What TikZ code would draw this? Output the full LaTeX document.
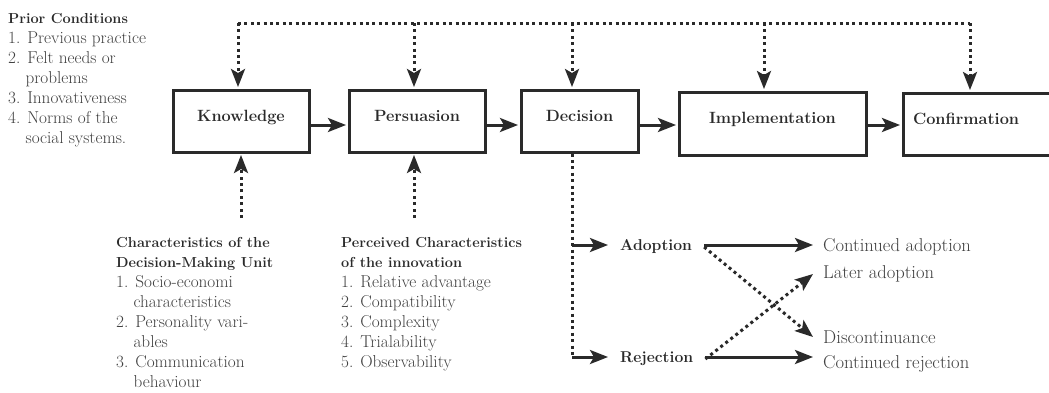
\documentclass[tikz,border=0pt]{standalone}
\usepackage{fontspec}
\usetikzlibrary{arrows.meta}
\definecolor{ink}{HTML}{2A2A2A}
\definecolor{txt}{HTML}{404040}
\newcommand{\ind}{\hphantom{1.~}}
\newcommand{\hd}[1]{\textcolor{ink}{\fontsize{14.5}{20}\selectfont\bfseries #1}}

\begin{document}
\begin{tikzpicture}[x=1pt, y=-1pt]

\tikzstyle{box1}=[rectangle, draw=ink, line width=3pt, text height=11pt, text depth=11pt, text=ink, font=\fontsize{16.3}{20}\selectfont\bfseries]
\tikzstyle{arrow}=[-{Stealth[length=18pt,width=14pt,inset=4pt]}, draw=ink, line width=3pt]
\tikzstyle{dotline}=[draw=ink, line width=3pt, dash pattern=on 3pt off 3.4pt]
\tikzstyle{dotarrow}=[arrow, dash pattern=on 3pt off 3.4pt]
\tikzstyle{list}=[anchor=north west, inner sep=0pt, align=left, text=txt, font=\fontsize{17.2}{20}\selectfont]
\tikzstyle{choice}=[anchor=west, inner xsep=12pt, text=ink, font=\fontsize{15.7}{20}\selectfont\bfseries]
\tikzstyle{outcome}=[anchor=west, inner xsep=10pt, text=txt, font=\fontsize{18.6}{20}\selectfont]

\useasboundingbox (0,0) rectangle (1049,392);

\node (K) [box1, minimum width=136, minimum height=62] at (241,121) {Knowledge};
\node (P) [box1, minimum width=136, minimum height=62] at (417,121) {Persuasion};
\node (D) [box1, minimum width=117, minimum height=62] at (579.5,121) {Decision};
\node (I) [box1, minimum width=187, minimum height=63] at (772.5,123.5) {Implementation};
\node (C) [box1, minimum height=62, inner xsep=10pt, text width=137, align=left] at (981.5,124) {Confirmation};

\draw [arrow, shorten >=1.5pt] ([yshift=-4pt]K.east) -- ([yshift=-4pt]K.east -| P.west);
\draw [arrow, shorten >=1.5pt] ([yshift=-4pt]P.east) -- ([yshift=-4pt]P.east -| D.west);
\draw [arrow, shorten >=1.5pt] ([yshift=-4pt]D.east) -- ([yshift=-4pt]D.east -| I.west);
\draw [arrow, shorten >=1.5pt] ([yshift=-1.5pt]I.east) -- ([yshift=-1.5pt]I.east -| C.west);

\coordinate (tK) at (238,23);
\coordinate (tP) at (414,23);
\coordinate (tD) at (572,23);
\coordinate (tI) at (764,23);
\coordinate (tC) at (970,23);
\draw [dotline] (tK) -- (tC);
\draw [dotarrow, shorten >=1.5pt] (tK) -- (tK |- K.north);
\draw [dotarrow, shorten >=1.5pt] (tP) -- (tP |- P.north);
\draw [dotarrow, shorten >=1.5pt] (tD) -- (tD |- D.north);
\draw [dotarrow, shorten >=1.5pt] (tI) -- (tI |- I.north);
\draw [dotarrow, shorten >=1.5pt] (tC) -- (tC |- C.north);

\node (PC) [list] at (8,13) {\hd{Prior Conditions}\\
	1. Previous practice\\
	2. Felt needs or\\
	\ind problems\\
	3. Innovativeness\\
	4. Norms of the\\
	\ind social systems.};

\node (DMU) [list] at (116,237) {\hd{Characteristics of the}\\
	\hd{Decision-Making Unit}\\
	1. Socio-economi\\
	\ind characteristics\\
	2. Personality vari-\\
	\ind ables\\
	3. Communication\\
	\ind behaviour};

\node (PCI) [list] at (341,237) {\hd{Perceived Characteristics}\\
	\hd{of the innovation}\\
	1. Relative advantage\\
	2. Compatibility\\
	3. Complexity\\
	4. Trialability\\
	5. Observability};

\coordinate (bK) at (241,218);
\coordinate (bP) at (414,218);
\draw [dotarrow, shorten >=1.5pt] (bK) -- (bK |- K.south);
\draw [dotarrow, shorten >=1.5pt] (bP) -- (bP |- P.south);

\node (Ad) [choice] at (608,247) {Adoption};
\node (Rj) [choice] at (608,359) {Rejection};
\coordinate (dA) at (572,245);
\coordinate (dR) at (572,357);
\draw [dotline] (dA |- D.south) -- (dR);
\draw [arrow] (dA) -- (dA -| Ad.west);
\draw [arrow] (dR) -- (dR -| Rj.west);

\node (CA) [outcome] at (813,247) {Continued adoption};
\node (LA) [outcome] at (813,274) {Later adoption};
\node (Dc) [outcome] at (813,337) {Discontinuance};
\node (CR) [outcome] at (813,364) {Continued rejection};

\draw [arrow] (dA -| Ad.east) -- (dA -| CA.west);
\draw [arrow] (dR -| Rj.east) -- (dR -| CR.west);
\draw [dotarrow] (Ad.east) -- (Dc.west);
\draw [dotarrow] (Rj.east) -- (LA.west);

\end{tikzpicture}
\end{document}
